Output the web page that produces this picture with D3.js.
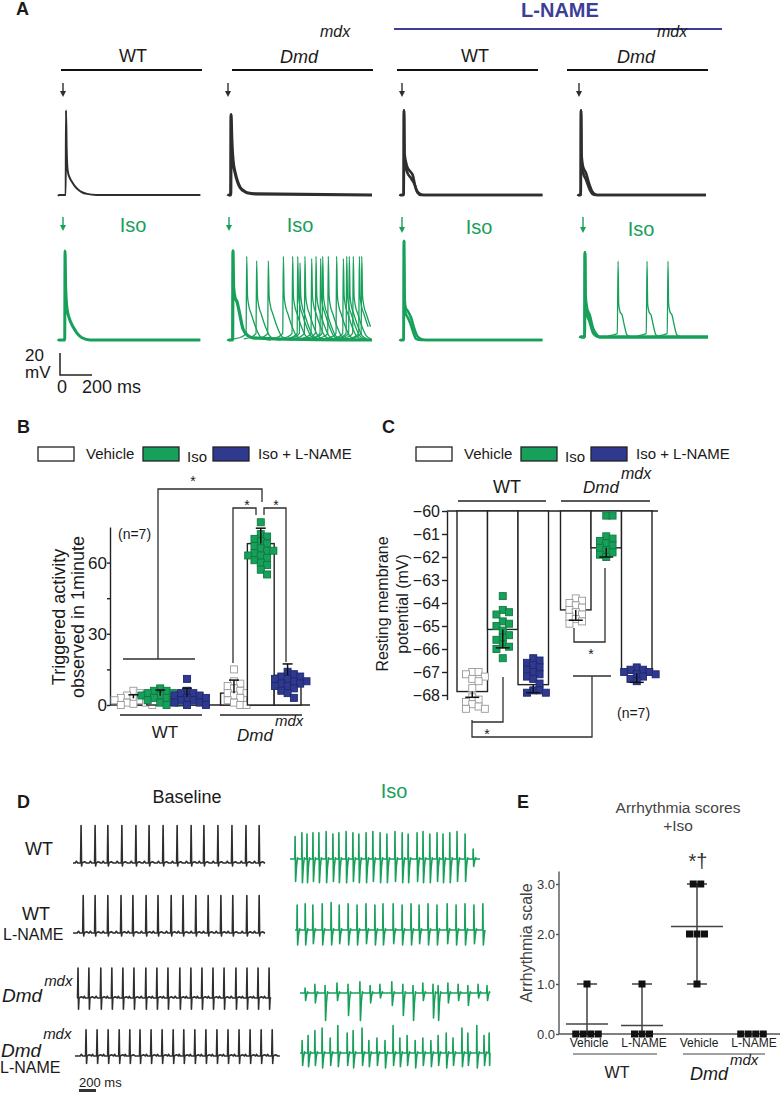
<!DOCTYPE html>
<html>
<head>
<meta charset="utf-8">
<script src="https://cdn.jsdelivr.net/npm/d3@7"></script>
<style>
body { margin: 0; background: #fff; }
svg text { font-family: "Liberation Sans", Arial, Helvetica, sans-serif; fill: #1a1a1a; }
</style>
</head>
<body>
<div id="fig"></div>
<script>
// ---------- panel A: action potentials, [ms, mV] ----------
var apWtVehicle = [[0,-79],[6,-78],[48,-78],[50,-1],[54,-35],[58,-52],[62,-57],[72,-62],[87,-66],[105,-70],[125,-73],[150,-75.5],[181,-77],[240,-78],[890,-78]];
var apDmdVehicle = [[0,-79],[5,-78],[17,-78],[19,-5],[23,-25],[31,-46],[45,-58],[60,-66],[75,-71],[95,-74],[119,-76],[170,-77],[900,-78]];
var apWtLname = [[0,-79],[4,-78],[23,-78],[25,-1],[28,-40],[44,-52],[60,-56],[80,-60],[95,-70],[110,-76],[130,-78],[890,-78]];
var apWtLname2 = [[0,-79],[4,-78],[23,-78],[25,-1],[28,-44],[44,-57],[70,-63],[90,-68],[105,-74],[125,-77],[150,-78],[890,-78]];
var apDmdLname = [[0,-79],[4,-78],[17,-78],[19,-1],[22,-40],[31,-52],[50,-58],[70,-68],[90,-75],[119,-78],[800,-78]];
var apDmdLname2 = [[0,-79],[4,-78],[17,-78],[19,-1],[22,-44],[31,-57],[50,-64],[70,-72],[90,-77],[110,-78],[800,-78]];
var apWtIso = [[0,-79],[6,-78],[42,-78],[44,3],[48,-30],[56,-49],[70,-58],[94,-66],[120,-72],[150,-76],[200,-78],[890,-78]];
var apDmdIso = [[0,-79],[5,-78],[29,-78],[31,3],[35,-30],[45,-40],[56,-43],[70,-52],[94,-68],[125,-74],[156,-76],[300,-77],[900,-78]];
var apWtLnameIso = [[0,-79],[4,-78],[23,-78],[25,12],[28,-35],[34,-48],[50,-52],[70,-58],[90,-68],[106,-74],[130,-77],[160,-78],[890,-78]];
var apWtLnameIso2 = [[0,-79],[4,-78],[23,-78],[25,12],[28,-40],[34,-53],[50,-58],[70,-65],[85,-72],[100,-77],[130,-78],[890,-78]];
var apDmdLnameIso = [[0,-79],[4,-78],[29,-78],[31,-1],[34,-40],[44,-52],[60,-58],[81,-70],[100,-75],[125,-78],[800,-78]];
var apDmdLnameIso2 = [[0,-79],[4,-78],[29,-78],[31,-1],[34,-44],[44,-57],[60,-64],[81,-74],[100,-77],[120,-78],[800,-78]];
// triggered beats (upstroke time, peak mV)
var dmdIsoSpikeTimes = [117,179,252,346,404,436,450,481,523,550,579,592,627,679,721,742,758,783,821,836];
var dmdIsoSpikePeaks = [-2,-6,-6,-2,-2,-2,-8,-2,-4,-2,-4,-2,-2,-2,-4,-2,-2,-2,-2,-2];
var dmdLnameIsoSpikeTimes = [238,419,550];
var dmdLnameIsoSpikePeaks = [-9,-9,-9];
// shape of one triggered beat around its upstroke, null = peak
var triggeredShape = [[-80,-77],[-30,-75],[-4,-72],[0,null],[5,-38],[12,-46],[30,-55],[55,-66],[80,-74],[110,-77],[150,-78]];
var triggeredShapeLname = [[-60,-77],[-5,-75],[0,null],[4,-48],[12,-55],[25,-58],[40,-68],[55,-76],[80,-78]];

// ---------- panels B and C ----------
var groups = ["WT", "Dmd"];
var treatments = ["Vehicle", "Iso", "Iso + L-NAME"];
// order: WT vehicle, WT iso, WT iso+L-NAME, Dmd vehicle, Dmd iso, Dmd iso+L-NAME
var trigMean = [2.8, 3.9, 3.4, 5.0, 68, 12.5];
var trigSd = [1.5, 2.4, 3.7, 5.5, 6.5, 4.8];
var trigPoints = [
  [0,0,0.5,1,1,2,2,2,3,3,3,4,4,5,6],
  [0,1,1,2,2,3,3,3,4,4,4,5,5,6,6,7],
  [0,0,1,1,2,2,3,3,4,4,5,5,6,11],
  [0,0,1,2,3,4,5,5,6,7,8,9,10,15],
  [55,57,59,60,61,62,63,63,64,65,65,66,67,68,69,70,71,72,77],
  [3,5,6,7,8,8,9,9,10,10,11,11,12,12,13,14]
];
var rmpMean = [-67.85, -65.15, -67.55, -64.3, -61.6, -67.05];
var rmpSd = [0.25, 0.8, 0.35, 0.45, 0.4, 0.4];
var rmpPoints = [
  [-67.0,-67.0,-67.1,-67.2,-67.3,-67.4,-67.7,-68.1,-68.2,-68.3,-68.4,-68.5,-68.6,-68.6],
  [-63.7,-64.3,-64.4,-64.5,-64.8,-64.9,-65.0,-65.2,-65.4,-65.5,-65.6,-65.8,-65.9,-66.0,-66.4],
  [-66.4,-66.5,-66.6,-66.7,-66.8,-66.9,-67.0,-67.1,-67.2,-67.3,-67.5,-67.8,-67.8,-67.9,-67.9],
  [-63.8,-63.9,-64.0,-64.1,-64.2,-64.3,-64.4,-64.5,-64.6,-64.7,-64.8,-64.9],
  [-60.2,-60.2,-61.1,-61.2,-61.3,-61.4,-61.5,-61.6,-61.7,-61.8,-61.9,-62.0],
  [-66.8,-66.9,-66.9,-67.0,-67.0,-67.1,-67.1,-67.2,-67.3,-67.4]
];

// ---------- panel D: ECG beat times (ms) and amplitudes ----------
var ecgBaselineBeats = [
  [95,260,410,575,740,895,1060,1225,1390,1540,1705,1870,2035,2190],
  [120,260,410,565,705,860,1000,1155,1295,1445,1590,1740,1880,2045,2190],
  [12,140,280,410,540,670,810,940,1070,1210,1340,1470,1600,1730,1870,2000,2130,2260],
  [130,260,390,520,645,765,895,1025,1155,1280,1410,1540,1670,1800,1930,2060,2190,2320]
];
var ecgBaselineR = [1.5, 1.5, 1.2, 1.05];
var ecgBaselineS = [0.12, 0.12, 0.45, 0.3];
var ecgIsoBeats = [
  [60,140,200,270,340,425,505,575,660,740,810,895,975,1060,1140,1235,1320,1390,1495,1565,1645,1730,1800,1880,1965,2060,2155],
  [25,120,210,320,425,520,625,730,835,940,1035,1155,1260,1365,1460,1565,1670,1790,1895,2000,2105,2210],
  [60,175,295,435,565,705,825,940,1080,1210,1330,1445,1565,1625,1740,1860,1975,2095,2200],
  [25,95,175,260,355,445,555,625,730,810,905,1000,1095,1175,1260,1355,1445,1540,1625,1720,1800,1905,1975,2080,2165,2225]
];
var ecgIsoR = [
  [0.9,1.05,1.0,1.05,1.05,1.1,1.0,1.05,1.1,1.05,1.0,1.05,1.1,1.05,1.0,1.1,1.05,1.0,1.05,1.1,1.0,1.05,1.0,1.05,1.1,1.0,0.4],
  [1.0,1.05,1.0,1.05,1.1,1.0,1.05,1.0,1.05,1.0,1.05,1.05,1.0,1.05,1.0,1.05,1.0,1.05,1.0,1.05,1.0,1.05],
  [0.2,0.35,0.3,0.4,0.35,0.45,0.3,0.35,0.45,0.35,0.3,0.4,0.35,0.3,0.4,0.35,0.3,0.35,0.3],
  [0.5,0.7,0.9,1.0,0.6,1.1,0.8,0.9,1.0,0.5,0.6,0.5,1.1,0.6,0.7,0.5,0.6,0.5,0.7,0.8,0.6,1.0,0.8,1.1,0.7,0.8]
];
var ecgIsoS = [
  [0.9,0.95,0.95,0.9,0.95,0.95,0.9,0.95,0.95,0.9,0.95,0.95,0.9,0.95,0.95,0.9,0.95,0.95,0.9,0.95,0.95,0.9,0.95,0.95,0.9,0.9,0.3],
  [0.6,0.6,0.55,0.6,0.6,0.55,0.6,0.6,0.55,0.6,0.6,0.55,0.6,0.6,0.55,0.6,0.6,0.55,0.6,0.6,0.55,0.6],
  [0.3,0.4,1.1,0.3,0.9,1.1,0.4,0.2,0.5,0.9,1.1,0.3,1.0,1.1,0.4,0.3,0.5,0.2,0.3],
  [0.5,0.55,0.5,0.6,0.5,0.55,0.5,0.6,0.5,0.55,0.5,0.6,0.5,0.55,0.5,0.6,0.5,0.55,0.5,0.6,0.5,0.55,0.5,0.6,0.5,0.5]
];
// beat templates: [ms, R weight, S weight, constant]
var ecgShapeBaseline = [[-70,0,0,0],[-55,0,0,0.07],[-40,0,0,0],[-6,0,0,0],[0,1,0,0],[6,0,1,0],[12,0,0,0],[40,0,0,0.05],[65,0,0,0]];
var ecgShapeIso = [[-14,0,0,0],[-3,0,0,0],[0,1,0,0],[6,0,1,0],[16,0,0.35,0],[28,0,0,0.05],[36,0,0,0]];

// ---------- panel E ----------
var arrCategories = ["WT Vehicle", "WT L-NAME", "Dmd Vehicle", "Dmd L-NAME"];
var arrScores = [[0,0,0,0,1],[0,0,0,1],[1,2,2,2,3,3],[0,0,0,0]];
var arrMean = [0.2, 0.17, 2.15, 0];

// ---------------------------------------------------------------
var GREEN = "#17a05a", BLUE = "#2f3a8e", DARK = "#2e2e2e", LBLUE = "#3c3f97";
var svg = d3.select("#fig").append("svg").attr("width", 780).attr("height", 1093);

function text(x, y, s, size, opt) {
  opt = opt || {};
  var t = svg.append("text").attr("x", x).attr("y", y).text(s)
    .attr("font-size", size).attr("text-anchor", opt.anchor || "start");
  if (opt.weight) t.attr("font-weight", opt.weight);
  if (opt.color) t.style("fill", opt.color);
  if (opt.italic) t.attr("font-style", "italic");
  if (opt.rotate) t.attr("transform", "rotate(-90," + x + "," + y + ")");
  return t;
}
function dmd(x, y, size, supSize, rise) {
  var t = svg.append("text").attr("x", x).attr("y", y).attr("font-size", size);
  t.append("tspan").attr("font-style", "italic").text("Dmd");
  t.append("tspan").attr("font-style", "italic").attr("font-size", supSize)
    .attr("dx", 2).attr("dy", -rise).text("mdx");
}
function line(x1, y1, x2, y2, color, w) {
  svg.append("line").attr("x1", x1).attr("y1", y1).attr("x2", x2).attr("y2", y2)
    .attr("stroke", color || DARK).attr("stroke-width", w || 1.3);
}
function poly(pts, color, w) {
  svg.append("path").attr("d", d3.line()(pts)).attr("fill", "none")
    .attr("stroke", color || DARK).attr("stroke-width", w || 1.3);
}
function arrow(x, y1, y2, color) {
  line(x, y1, x, y2 - 4, color, 1.4);
  svg.append("path").attr("d", d3.line()([[x - 3, y2 - 6], [x + 3, y2 - 6], [x, y2]]) + "Z")
    .attr("fill", color);
}

// ================= Panel A =================
text(16, 15, "A", 18, {weight: "bold"});
text(560, 17, "L-NAME", 20, {weight: "bold", anchor: "middle", color: LBLUE});
line(394, 29, 722, 29, LBLUE, 2);
text(133, 62, "WT", 18, {anchor: "middle"});
line(61, 70, 202, 70, "#111", 2);
dmd(280, 63, 18, 16, 26);
line(232, 70, 373, 70, "#111", 2);
text(475, 62, "WT", 18, {anchor: "middle"});
line(397, 70, 538, 70, "#111", 2);
dmd(617, 63, 18, 16, 26);
line(567, 70, 708, 70, "#111", 2);

var pxPerMs = 0.16, pxPerMv = 1.1;
function xA(x0, dur) { return d3.scaleLinear().domain([0, dur]).range([x0, x0 + dur * pxPerMs]); }
function yA(restY) { return d3.scaleLinear().domain([-78, 0]).range([restY, restY - 78 * pxPerMv]); }
var apLine = function (xs, ys) {
  return d3.line().x(function (d) { return xs(d[0]); }).y(function (d) { return ys(d[1]); }).curve(d3.curveMonotoneX);
};
function trace(data, xs, ys, color, w) {
  svg.append("path").datum(data).attr("d", apLine(xs, ys)).attr("fill", "none")
    .attr("stroke", color).attr("stroke-width", w).attr("stroke-linejoin", "round");
}
function triggered(times, peaks, shape, xs, ys, dur, color) {
  times.forEach(function (t0, i) {
    var d = shape.map(function (p) { return [t0 + p[0], p[1] === null ? peaks[i] : p[1]]; })
      .filter(function (p) { return p[0] >= 0 && p[0] <= dur; });
    trace(d, xs, ys, color, 1.3);
  });
}

// row 1 (no drug)
var y1 = yA(195), y2 = yA(340);
arrow(63, 83, 97, DARK); arrow(228, 83, 97, DARK); arrow(402, 83, 97, DARK); arrow(579, 83, 97, DARK);
trace(apWtVehicle, xA(58, 890), y1, DARK, 2);
trace(apDmdVehicle, xA(228, 900), y1, DARK, 3.2);
trace(apWtLname, xA(400, 890), y1, DARK, 2.6);
trace(apWtLname2, xA(400, 890), y1, DARK, 2.6);
trace(apDmdLname, xA(578, 800), y1, DARK, 2.6);
trace(apDmdLname2, xA(578, 800), y1, DARK, 2.6);

// row 2 (Iso)
arrow(63, 217, 231, GREEN); arrow(229, 217, 231, GREEN); arrow(402, 217, 233, GREEN); arrow(583, 217, 233, GREEN);
text(133, 232, "Iso", 20, {anchor: "middle", color: GREEN});
text(300, 232, "Iso", 20, {anchor: "middle", color: GREEN});
text(479, 234, "Iso", 20, {anchor: "middle", color: GREEN});
text(641, 236, "Iso", 20, {anchor: "middle", color: GREEN});
trace(apWtIso, xA(58, 890), y2, GREEN, 3);
var xDmdIso = xA(228, 900);
triggered(dmdIsoSpikeTimes, dmdIsoSpikePeaks, triggeredShape, xDmdIso, y2, 900, GREEN);
trace(apDmdIso, xDmdIso, y2, GREEN, 3.2);
trace(apWtLnameIso, xA(400, 890), y2, GREEN, 2.6);
trace(apWtLnameIso2, xA(400, 890), y2, GREEN, 2.6);
var xDmdLnIso = xA(580, 800);
triggered(dmdLnameIsoSpikeTimes, dmdLnameIsoSpikePeaks, triggeredShapeLname, xDmdLnIso, yA(337), 800, GREEN);
trace(apDmdLnameIso, xDmdLnIso, yA(337), GREEN, 2.8);
trace(apDmdLnameIso2, xDmdLnIso, yA(337), GREEN, 2.8);

// scale bar: 20 mV, 200 ms
poly([[60, 375 - 20 * pxPerMv], [60, 375], [60 + 200 * pxPerMs, 375]], "#222", 1.5);
text(25, 361, "20", 17); text(25, 378, "mV", 17);
text(57, 393, "0", 18); text(82, 393, "200", 18); text(117, 393, "ms", 18);

// ================= swarm helper =================
function swarm(vals, ys, step, size) {
  var pts = vals.map(function (v) { return {v: v, y: ys(v), dx: 0}; })
    .sort(function (a, b) { return a.y - b.y; });
  var placed = [];
  pts.forEach(function (p) {
    for (var k = 0; k < 60; k++) {
      var off = k === 0 ? 0 : (k % 2 ? 1 : -1) * Math.ceil(k / 2) * step;
      var hit = placed.some(function (q) { return Math.abs(q.dx - off) < step * 0.99 && Math.abs(q.y - p.y) < size * 0.8; });
      if (!hit) { p.dx = off; break; }
    }
    placed.push(p);
  });
  return pts;
}
var fills = ["#fff", GREEN, BLUE];
var strokes = ["#999", "#117a42", "#1f2870"];

function legend(x0, xs) {
  var rx = [x0, x0 + xs[0], x0 + xs[1]];
  var tx = [x0 + 48, x0 + xs[0] + 44, x0 + xs[1] + 45];
  treatments.forEach(function (t, i) {
    svg.append("rect").attr("x", rx[i]).attr("y", 447).attr("width", 36).attr("height", 14)
      .attr("fill", i === 0 ? "#fff" : fills[i]).attr("stroke", "#222").attr("stroke-width", 1.3);
    text(tx[i], i === 1 ? 462 : 459, t, 15);
  });
}

// ================= Panel B =================
text(17, 433, "B", 18, {weight: "bold"});
legend(38, [105, 175]);
var yB = d3.scaleLinear().domain([0, 75]).range([705, 527]);
var gB = d3.scaleBand().domain(groups).range([120, 301]).paddingInner(0.2);
var tB = d3.scaleBand().domain(treatments).range([0, gB.bandwidth()]);
var axB = svg.append("g").attr("transform", "translate(110,0)")
  .call(d3.axisLeft(yB).tickValues([0, 15, 30, 45, 60]).tickSize(3).tickPadding(0).tickSizeOuter(0)
    .tickFormat(function (d) { return d % 30 === 0 ? d : ""; }));
axB.selectAll("text").attr("font-size", 17).style("fill", "#1a1a1a");
axB.selectAll("path,line").attr("stroke", "#222").attr("stroke-width", 1.4);
line(110, 705, 310, 705, "#222", 1.4);
text(65, 617, "Triggered activity", 18, {anchor: "middle", rotate: true});
text(84, 617, "observed in 1minute", 18, {anchor: "middle", rotate: true});
text(118, 539, "(n=7)", 14);

trigMean.forEach(function (m, i) {
  var g = groups[Math.floor(i / 3)], t = treatments[i % 3];
  var x = gB(g) + tB(t), w = tB.bandwidth(), cx = x + w / 2;
  svg.append("rect").attr("x", x).attr("y", yB(m)).attr("width", w).attr("height", yB(0) - yB(m))
    .attr("fill", "#fff").attr("stroke", "#222").attr("stroke-width", 1.4);
  swarm(trigPoints[i], yB, 6.3, 7).forEach(function (p) {
    svg.append("rect").attr("x", cx + p.dx - 3.5).attr("y", p.y - 3.5).attr("width", 7).attr("height", 7)
      .attr("fill", fills[i % 3]).attr("stroke", strokes[i % 3]).attr("stroke-width", 0.9);
  });
});
trigMean.forEach(function (m, i) {
  var cx = gB(groups[Math.floor(i / 3)]) + tB(treatments[i % 3]) + tB.bandwidth() / 2;
  line(cx, yB(m), cx, yB(m + trigSd[i]), "#111", 1.5);
  line(cx - 5, yB(m + trigSd[i]), cx + 5, yB(m + trigSd[i]), "#111", 1.5);
});
// group labels
line(120, 715, 202, 715, "#222", 1.3);
line(220, 715, 302, 715, "#222", 1.3);
text(165, 738, "WT", 17, {anchor: "middle"});
dmd(237, 741, 17, 15, 15);
// significance
line(123, 659, 195, 659);
poly([[158, 659], [158, 489], [262, 489], [262, 502]]);
poly([[233, 663], [233, 508], [256, 508], [256, 515]]);
poly([[264, 515], [264, 508], [286, 508], [286, 662]]);
text(193, 486, "*", 14, {anchor: "middle"});
text(247, 510, "*", 14, {anchor: "middle"});
text(276, 510, "*", 14, {anchor: "middle"});

// ================= Panel C =================
text(382, 433, "C", 18, {weight: "bold"});
legend(416, [105, 175]);
var yC = d3.scaleLinear().domain([-60, -68.2]).range([511, 699.6]);
var gC = d3.scaleBand().domain(groups).range([457, 652]).paddingInner(0.116);
var tC = d3.scaleBand().domain(treatments).range([0, gC.bandwidth()]);
var axC = svg.append("g").attr("transform", "translate(447,0)")
  .call(d3.axisLeft(yC).tickValues(d3.range(-60, -68.5, -1)).tickSize(5).tickPadding(2).tickSizeOuter(0));
axC.selectAll("text").attr("font-size", 16).style("fill", "#1a1a1a");
axC.selectAll("path,line").attr("stroke", "#222").attr("stroke-width", 1.4);
line(447, 511, 658, 511, "#222", 1.4);
text(388, 604, "Resting membrane", 16, {anchor: "middle", rotate: true});
text(408, 604, "potential (mV)", 16, {anchor: "middle", rotate: true});
text(507, 493, "WT", 18, {anchor: "middle"});
line(458, 501, 546, 501, "#222", 1.3);
dmd(583, 493, 17, 16, 14);
line(561, 501, 650, 501, "#222", 1.3);

rmpMean.forEach(function (m, i) {
  var x = gC(groups[Math.floor(i / 3)]) + tC(treatments[i % 3]), w = tC.bandwidth(), cx = x + w / 2;
  svg.append("rect").attr("x", x).attr("y", yC(-60)).attr("width", w).attr("height", yC(m) - yC(-60))
    .attr("fill", "#fff").attr("stroke", "#222").attr("stroke-width", 1.4);
  swarm(rmpPoints[i], yC, 6.3, 7).forEach(function (p) {
    svg.append("rect").attr("x", cx + p.dx - 3.5).attr("y", p.y - 3.5).attr("width", 7).attr("height", 7)
      .attr("fill", fills[i % 3]).attr("stroke", strokes[i % 3]).attr("stroke-width", 0.9);
  });
});
rmpMean.forEach(function (m, i) {
  var cx = gC(groups[Math.floor(i / 3)]) + tC(treatments[i % 3]) + tC.bandwidth() / 2;
  line(cx, yC(m), cx, yC(m - rmpSd[i]), "#111", 1.5);
  line(cx - 7, yC(m - rmpSd[i]), cx + 7, yC(m - rmpSd[i]), "#111", 1.5);
});
poly([[503, 677], [503, 722], [472, 722]]);
poly([[472, 720], [472, 737], [592, 737], [592, 676]]);
line(573, 676, 611, 676);
poly([[574, 628], [574, 642], [605, 642], [605, 568]]);
text(591, 659, "*", 14, {anchor: "middle"});
text(487, 739, "*", 14, {anchor: "middle"});
text(617, 718, "(n=7)", 14);

// ================= Panel D =================
text(17, 808, "D", 18, {weight: "bold"});
text(187, 803, "Baseline", 18, {anchor: "middle"});
text(394, 798, "Iso", 20, {anchor: "middle", color: GREEN});
text(25, 855, "WT", 18);
text(22, 920, "WT", 18); text(3, 940, "L-NAME", 16);
dmd(2, 1002, 19, 15, 16);
dmd(1, 1057, 19, 15, 18); text(0, 1073, "L-NAME", 16);

var ecgPxPerMs = 0.085;
function ecgPath(beats, R, S, shape, dur) {
  var pts = [[0, 0]], last = 0;
  beats.forEach(function (b, i) {
    var r = Array.isArray(R) ? R[i] : R, s = Array.isArray(S) ? S[i] : S;
    shape.forEach(function (p) {
      var t = b + p[0];
      if (t > last && t < dur) { pts.push([t, p[1] * r - p[2] * s + p[3]]); last = t; }
    });
  });
  pts.push([dur, 0]);
  return pts;
}
function ecg(pts, x0, baseY, color) {
  var xs = d3.scaleLinear().domain([0, 1]).range([x0, x0 + ecgPxPerMs]);
  var ys = d3.scaleLinear().domain([0, 1]).range([baseY, baseY - 25]);
  svg.append("path").datum(pts)
    .attr("d", d3.line().x(function (d) { return xs(d[0]); }).y(function (d) { return ys(d[1]); }))
    .attr("fill", "none").attr("stroke", color).attr("stroke-width", 1.6).attr("stroke-linejoin", "round");
}
var baseX0 = [73, 73, 77, 75], baseDur = [2260, 2260, 2285, 2410], baseY = [863, 933, 998, 1056];
var isoX0 = [290, 295, 300, 300], isoDur = [2235, 2235, 2235, 2235], isoY = [859, 930, 993, 1053];
ecgBaselineBeats.forEach(function (b, i) {
  ecg(ecgPath(b, ecgBaselineR[i], ecgBaselineS[i], ecgShapeBaseline, baseDur[i]), baseX0[i], baseY[i], DARK);
});
ecgIsoBeats.forEach(function (b, i) {
  ecg(ecgPath(b, ecgIsoR[i], ecgIsoS[i], ecgShapeIso, isoDur[i]), isoX0[i], isoY[i], GREEN);
});
svg.append("rect").attr("x", 79).attr("y", 1089).attr("width", 200 * ecgPxPerMs).attr("height", 3).attr("fill", "#333");
text(79, 1087, "200 ms", 13);

// ================= Panel E =================
var GREY = "#444";
text(517, 808, "E", 18, {weight: "bold"});
text(678, 813, "Arrhythmia scores", 15.5, {anchor: "middle", color: GREY});
text(678, 831, "+Iso", 15.5, {anchor: "middle", color: GREY});
var yE = d3.scaleLinear().domain([0, 3]).range([1034, 884]);
var xE = d3.scalePoint().domain(arrCategories).range([587, 752]);
var axE = svg.append("g").attr("transform", "translate(559,0)")
  .call(d3.axisLeft(yE).tickValues([0, 1, 2, 3]).tickFormat(d3.format(".1f")).tickSize(3).tickPadding(1).tickSizeOuter(0));
axE.select(".domain").attr("d", "M0," + yE(3.25) + "V" + yE(0));
axE.selectAll("text").attr("font-size", 13).style("fill", "#333");
axE.selectAll("path,line").attr("stroke", "#555").attr("stroke-width", 1.4);
line(559, 1034, 780, 1034, "#555", 1.4);
text(532, 943, "Arrhythmia scale", 16, {anchor: "middle", rotate: true, color: GREY});

arrScores.forEach(function (vals, i) {
  var cx = xE(arrCategories[i]);
  var lo = d3.min(vals), hi = d3.max(vals);
  if (hi > lo) {
    line(cx, yE(lo), cx, yE(hi), "#222", 1.3);
    line(cx - 10, yE(hi), cx + 10, yE(hi), "#222", 1.3);
    line(cx - 10, yE(lo), cx + 10, yE(lo), "#222", 1.3);
  }
  d3.groups(vals, function (v) { return v; }).forEach(function (grp) {
    var n = grp[1].length;
    grp[1].forEach(function (v, j) {
      svg.append("rect").attr("x", cx + (j - (n - 1) / 2) * 7.5 - 3.5).attr("y", yE(v) - 3.5)
        .attr("width", 7).attr("height", 7).attr("fill", "#111");
    });
  });
  if (arrMean[i] > 0) {
    var hw = i === 2 ? 26 : 21;
    line(cx - hw, yE(arrMean[i]), cx + hw, yE(arrMean[i]), "#444", 1.6);
  }
});
text(698, 868, "*†", 20, {anchor: "middle", color: "#333"});
["Vehicle", "L-NAME", "Vehicle", "L-NAME"].forEach(function (s, i) {
  text(xE(arrCategories[i]) + 2, 1047, s, 12, {anchor: "middle", color: "#222"});
});
line(573, 1054, 657, 1054, "#444", 1.2);
line(683, 1054, 765, 1054, "#444", 1.2);
text(617, 1078, "WT", 16, {anchor: "middle", color: "#222"});
dmd(690, 1080, 18, 15, 15);
</script>
</body>
</html>
